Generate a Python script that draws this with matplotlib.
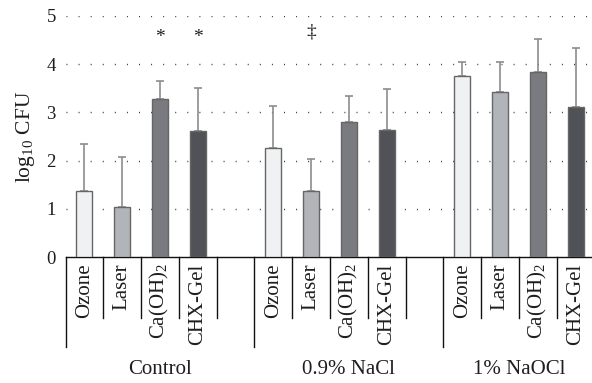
import numpy as np
import matplotlib.pyplot as plt
import matplotlib.transforms as mtransforms

plt.rcParams['font.family'] = ['Liberation Serif', 'DejaVu Serif']
plt.rcParams['mathtext.fontset'] = 'custom'
plt.rcParams['mathtext.rm'] = 'Liberation Serif'

# data
groups = ['Control', '0.9% NaCl', '1% NaOCl']
treatments = ['Ozone', 'Laser', 'Ca(OH)$_\\mathregular{2}$', 'CHX-Gel']
ozone = [1.38, 2.26, 3.75]
laser = [1.05, 1.38, 3.43]
caoh = [3.28, 2.79, 3.83]
chx = [2.61, 2.64, 3.12]
ozone_sd = [0.97, 0.88, 0.29]
laser_sd = [1.03, 0.65, 0.62]
caoh_sd = [0.37, 0.55, 0.68]
chx_sd = [0.89, 0.85, 1.22]
marks = {(0, 2): '*', (0, 3): '*', (1, 1): '\u2021'}

werte = [ozone, laser, caoh, chx]
sd = [ozone_sd, laser_sd, caoh_sd, chx_sd]
farben = ['#f0f1f3', '#b1b4b9', '#7a7b80', '#505257']
txt = '#1e1e1e'

fig = plt.figure(figsize=(5.92, 3.83), dpi=100)
ax = fig.add_axes([65.5/592, (383-257.3)/383, 529/592, 241.6/383])

for t in range(4):
  x = np.arange(3)*5 + t
  ax.bar(x, werte[t], width=0.42, color=farben[t], edgecolor='#666666', linewidth=1.0, zorder=3)
  ax.errorbar(x, werte[t], yerr=[np.zeros(3), sd[t]], fmt='none', ecolor='#8c8c8c',
              elinewidth=1.2, capsize=3.0, capthick=1.2, zorder=2)

for (g, t), s in marks.items():
  yy = 4.55 if s == '*' else 4.66
  ax.text(g*5 + t, yy, s, ha='center', va='center', fontsize=14, color=txt)

ax.set_xlim(-0.5, 13.5)
ax.set_ylim(0, 5)
ax.set_yticks(range(6))
ax.tick_params(axis='y', length=0, pad=7, labelsize=13.5, labelcolor=txt)
ax.set_xticks([])
for y in range(1, 6):
  ax.axhline(y, color='#333333', linewidth=1.0, linestyle=(0, (0.7, 8)), zorder=1)
for s in ['top', 'right', 'left']:
  ax.spines[s].set_visible(False)
ax.spines['bottom'].set_color('#111111')
ax.spines['bottom'].set_linewidth(1.0)
ax.set_ylabel('log$_\\mathregular{10}$ CFU', fontsize=15.5, color=txt, labelpad=7)

trans = mtransforms.blended_transform_factory(ax.transData, ax.transAxes)
for b in range(14):
  lang = b in (0, 5, 10)
  ax.plot([b - 0.5, b - 0.5], [0, -0.3725 if lang else -0.2525], transform=trans,
          color='#111111', linewidth=1.0, clip_on=False)
for g in range(3):
  for t in range(4):
    ax.text(g*5 + t, -0.025, treatments[t], transform=trans, rotation=90, ha='center',
            va='top', fontsize=15, color=txt)
grp_x = [2.0, 7.0, 11.5]
for g in range(3):
  ax.text(grp_x[g], -0.465, groups[g], transform=trans, ha='center', va='center',
          fontsize=15, color=txt)

fig.savefig('out.png', dpi=100)
